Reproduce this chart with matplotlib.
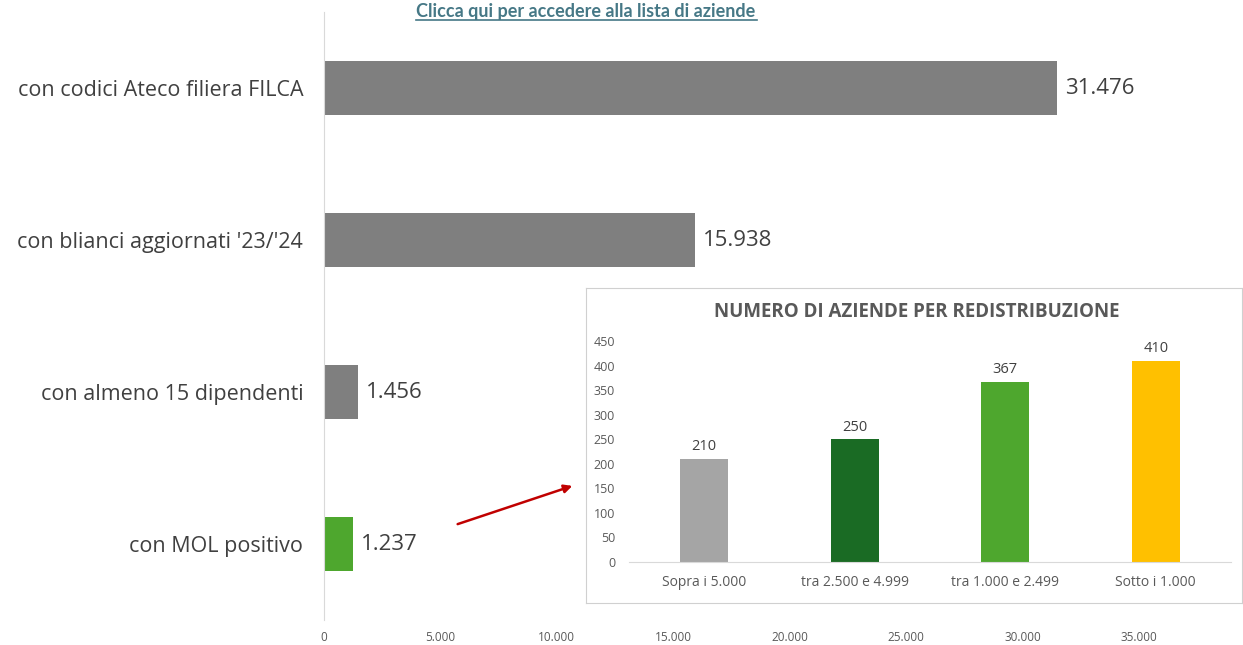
import matplotlib
matplotlib.use("Agg")
import matplotlib.pyplot as plt
from matplotlib.ticker import FuncFormatter

plt.rcParams["font.family"] = ["Open Sans", "DejaVu Sans"]

# dati principali
categories = [
    "con codici Ateco filiera FILCA",
    "con blianci aggiornati '23/'24",
    "con almeno 15 dipendenti",
    "con MOL positivo",
]
values = [31476, 15938, 1456, 1237]
bar_colors = ["#7f7f7f", "#7f7f7f", "#7f7f7f", "#4ea72e"]
x_ticks = [0, 5000, 10000, 15000, 20000, 25000, 30000, 35000]

# dati del grafico interno
sub_categories = ["Sopra i 5.000", "tra 2.500 e 4.999", "tra 1.000 e 2.499", "Sotto i 1.000"]
sub_values = [210, 250, 367, 410]
sub_colors = ["#a5a5a5", "#1a6b24", "#4ea72e", "#ffc000"]
sub_ticks = [0, 50, 100, 150, 200, 250, 300, 350, 400, 450]

W, H = 1243, 645


def it_fmt(v):
    return f"{int(v):,}".replace(",", ".")


fig = plt.figure(figsize=(W / 100, H / 100), dpi=100)
fig.patch.set_facecolor("white")

ax = fig.add_axes([324 / W, (H - 620) / H, (W - 324) / W, 608 / H])
pos = list(range(len(categories)))
ax.barh(pos, values, height=0.355, color=bar_colors)
ax.set_ylim(3.5, -0.5)
ax.set_xlim(0, 39466)
ax.set_yticks(pos)
ax.set_yticklabels(categories, fontsize=15.5, color="#404040")
ax.set_xticks(x_ticks)
ax.xaxis.set_major_formatter(FuncFormatter(lambda v, p: it_fmt(v)))
ax.tick_params(axis="x", length=0, labelsize=8.5, labelcolor="#595959", pad=8)
ax.tick_params(axis="y", length=0, pad=15)
for s in ["top", "right", "bottom"]:
    ax.spines[s].set_visible(False)
ax.spines["left"].set_color("#d9d9d9")
for i, v in enumerate(values):
    ax.text(v + 350, i, it_fmt(v), va="center", ha="left", fontsize=16, color="#404040")

fig.text(586 / W, (H - 12) / H, "Clicca qui per accedere alla lista di aziende",
         ha="center", va="center", fontsize=13, fontweight="bold", color="#467886",
         family=["Lato", "DejaVu Sans"])
fig.add_artist(plt.Line2D([416 / W, 757 / W], [(H - 20) / H, (H - 20) / H],
                          color="#467886", lw=1.2))

# freccia
ax.annotate("", xy=(575 / W, (H - 485) / H), xytext=(455 / W, (H - 525) / H),
            xycoords="figure fraction", textcoords="figure fraction",
            arrowprops=dict(arrowstyle="-|>", color="#c00000", lw=1.8, mutation_scale=12))

# riquadro del grafico interno
box = fig.add_axes([586 / W, (H - 603) / H, (1242 - 586) / W, (603 - 288) / H])
box.set_xticks([])
box.set_yticks([])
box.set_facecolor("white")
for s in box.spines.values():
    s.set_color("#d0d0d0")

ins = fig.add_axes([629 / W, (H - 562) / H, 602 / W, 221 / H])
sx = list(range(len(sub_categories)))
ins.bar(sx, sub_values, width=0.32, color=sub_colors)
ins.set_xlim(-0.5, 3.5)
ins.set_ylim(0, 450)
ins.set_yticks(sub_ticks)
ins.set_xticks(sx)
ins.set_xticklabels(sub_categories)
ins.tick_params(axis="both", length=0, labelcolor="#595959")
ins.tick_params(axis="x", pad=9, labelsize=10)
ins.tick_params(axis="y", pad=10, labelsize=9)
ins.set_facecolor("none")
for s in ["top", "right", "left"]:
    ins.spines[s].set_visible(False)
ins.spines["bottom"].set_color("#d9d9d9")
for i, v in enumerate(sub_values):
    ins.text(i, v + 9, str(v), ha="center", va="bottom", fontsize=10.5, color="#404040")
fig.text(917 / W, (H - 312) / H, "NUMERO DI AZIENDE PER REDISTRIBUZIONE",
         ha="center", va="center", fontsize=13.5, fontweight="bold", color="#595959")

fig.savefig("out.png", dpi=100)
